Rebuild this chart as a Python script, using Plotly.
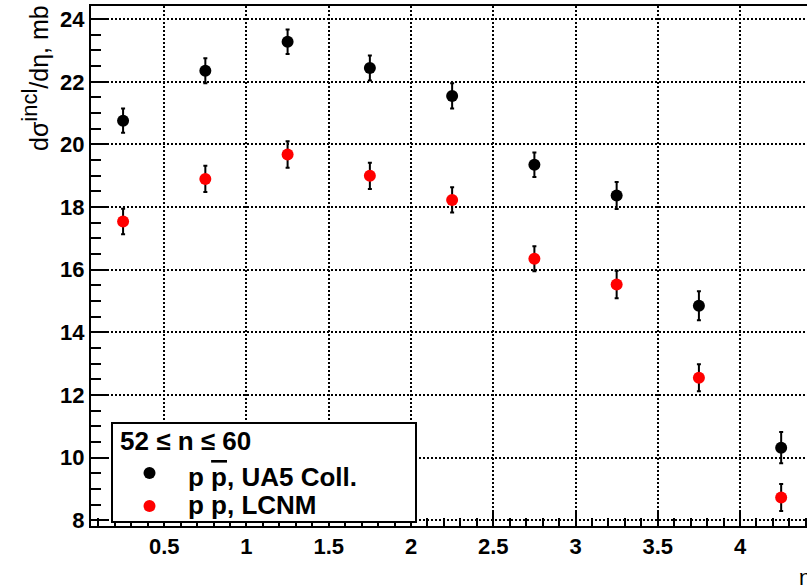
import plotly.graph_objects as go

# Data
eta = [0.25, 0.75, 1.25, 1.75, 2.25, 2.75, 3.25, 3.75, 4.25]
ua5_vals = [20.76, 22.35, 23.28, 22.44, 21.55, 19.35, 18.37, 14.85, 10.32]
ua5_errs = [0.39, 0.40, 0.39, 0.40, 0.40, 0.39, 0.43, 0.46, 0.50]
lcnm_vals = [17.54, 18.90, 19.68, 19.00, 18.23, 16.35, 15.53, 12.55, 8.73]
lcnm_errs = [0.41, 0.42, 0.42, 0.42, 0.40, 0.40, 0.44, 0.43, 0.43]
x_tickvals = [0.5, 1, 1.5, 2, 2.5, 3, 3.5, 4]
x_ticktext = ["0.5", "1", "1.5", "2", "2.5", "3", "3.5", "4"]
y_tickvals = [8, 10, 12, 14, 16, 18, 20, 22, 24]
legend_title = "52 ≤ n ≤ 60"
ua5_name = 'p <span style="text-decoration:overline">p</span>, UA5 Coll.'
lcnm_name = "p p, LCNM"

FONT = "Liberation Sans, Arial, sans-serif"

fig = go.Figure()
fig.add_trace(go.Scatter(
    x=eta, y=ua5_vals, mode="markers", name=ua5_name,
    marker=dict(color="black", size=12),
    error_y=dict(type="data", array=ua5_errs, color="black", thickness=2, width=2),
))
fig.add_trace(go.Scatter(
    x=eta, y=lcnm_vals, mode="markers", name=lcnm_name,
    marker=dict(color="red", size=12),
    error_y=dict(type="data", array=lcnm_errs, color="black", thickness=2, width=2),
))

fig.update_layout(
    width=807, height=588,
    margin=dict(l=91, r=0, t=6, b=62, autoexpand=False),
    plot_bgcolor="white", paper_bgcolor="white",
    showlegend=False,
    font=dict(family=FONT, color="black"),
)

fig.update_xaxes(
    range=[0.055, 4.407], automargin=False,
    tickvals=x_tickvals, ticktext=x_ticktext,
    ticks="inside", ticklen=14, tickwidth=2, tickcolor="black",
    minor=dict(dtick=0.1, tick0=0, ticks="inside", ticklen=8, tickwidth=1.5, tickcolor="black", showgrid=False),
    showgrid=True, gridcolor="black", gridwidth=1.5, griddash="2px,2px",
    showline=True, linecolor="black", linewidth=2, mirror=True,
    tickfont=dict(family=FONT, size=22, color="black", weight="bold"),
    zeroline=False,
)
fig.update_yaxes(
    range=[7.82, 24.42], automargin=False,
    tickvals=y_tickvals,
    ticks="inside", ticklen=18, tickwidth=2, tickcolor="black",
    minor=dict(dtick=0.5, tick0=0, ticks="inside", ticklen=10, tickwidth=1.5, tickcolor="black", showgrid=False),
    showgrid=True, gridcolor="black", gridwidth=1.5, griddash="2px,2px",
    showline=True, linecolor="black", linewidth=2, mirror=False,
    tickfont=dict(family=FONT, size=22, color="black", weight="bold"),
    zeroline=False,
)

def px_x(p):
    return (p - 91) / 716

def px_y(p):
    return (526 - p) / 520

# y title
fig.add_annotation(
    text='dσ<sup><span style="font-size:22px">incl</span></sup>/dη, mb', textangle=-90,
    xref="paper", yref="paper", x=px_x(35), y=px_y(3),
    xanchor="center", yanchor="top", showarrow=False,
    font=dict(family=FONT, size=25, color="black"),
)
# x title (clipped at right edge)
fig.add_annotation(
    text="η", xref="paper", yref="paper", x=px_x(797), y=px_y(577),
    xanchor="left", yanchor="middle", showarrow=False,
    font=dict(family=FONT, size=22, color="black"),
)

# Legend box (manual)
fig.add_shape(type="rect", xref="paper", yref="paper",
              x0=px_x(112), x1=px_x(416), y0=px_y(522), y1=px_y(423),
              fillcolor="white", line=dict(color="black", width=2), layer="above")
fig.add_annotation(text="<b>" + legend_title + "</b>", xref="paper", yref="paper",
                   x=px_x(118), y=px_y(441), xanchor="left", yanchor="middle",
                   showarrow=False, font=dict(family=FONT, size=26, color="black"))
for name, color, py_m, py_t in [(ua5_name, "black", 473, 477), (lcnm_name, "red", 506, 505)]:
    fig.add_shape(type="circle", xref="paper", yref="paper",
                  x0=px_x(143.5), x1=px_x(155.5), y0=px_y(py_m + 6), y1=px_y(py_m - 6),
                  fillcolor=color, line=dict(color=color, width=0), layer="above")
    fig.add_annotation(text="<b>" + name + "</b>", xref="paper", yref="paper",
                       x=px_x(186), y=px_y(py_t), xanchor="left", yanchor="middle",
                       showarrow=False, font=dict(family=FONT, size=26, color="black"))

fig.write_html("out.html", config={"displayModeBar": False},
               post_script="document.body.style.margin='0px';")
